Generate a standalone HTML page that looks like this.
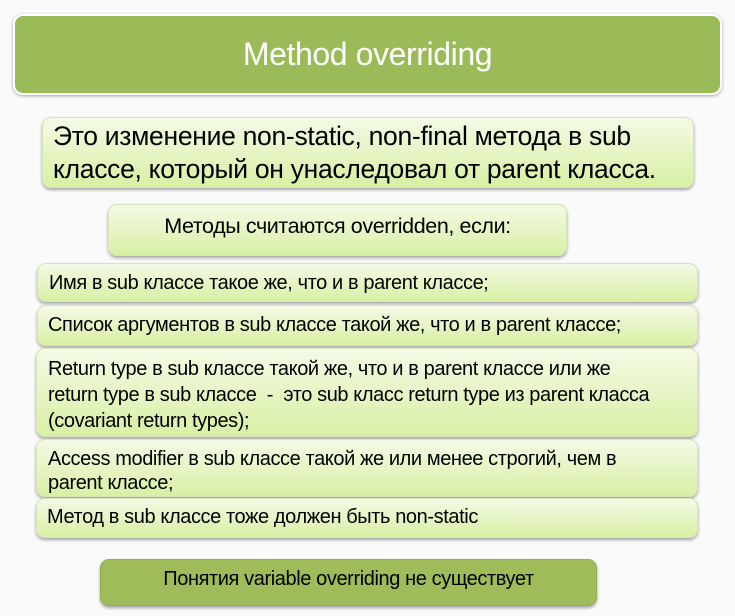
<!DOCTYPE html>
<html><head><meta charset="utf-8"><style>
body{margin:0;width:735px;height:616px;background:#fafafa;position:relative;overflow:hidden;font-family:"Liberation Sans","DejaVu Sans",sans-serif;}
.b{position:absolute;box-sizing:border-box;border-radius:9px;background:linear-gradient(#f4fae6,#d8f0a4);border:1px solid #d6e6b8;box-shadow:0 2px 3px rgba(0,0,0,.35);color:#111;}
.t{position:absolute;white-space:nowrap;font-size:20px;line-height:26px;letter-spacing:-0.4px;}
</style></head><body>
<div class="b" style="left:13px;top:14px;width:709px;height:81px;background:#9bbb59;border:2px solid #fff;border-radius:10px;box-shadow:0 1px 3px rgba(0,0,0,.35)"></div>
<div class="t" style="left:13px;width:709px;top:34px;text-align:center;color:#fff;font-size:32px;line-height:40px">Method overriding</div>

<div class="b" style="left:42px;top:117px;width:652px;height:71px"></div>
<div class="t" style="left:53px;top:120px;font-size:26.5px;line-height:33px;letter-spacing:-0.3px">Это изменение non-static, non-final метода в sub<br>классе, который он унаследовал от parent класса.</div>

<div class="b" style="left:108px;top:204px;width:459px;height:52px"></div>
<div class="t" style="left:108px;width:459px;top:213px;text-align:center;font-size:21.5px">Методы считаются overridden, если:</div>

<div class="b" style="left:37px;top:263px;width:661px;height:39px"></div>
<div class="t" style="left:49px;top:270px">Имя в sub классе такое же, что и в parent классе;</div>

<div class="b" style="left:37px;top:305px;width:661px;height:41px"></div>
<div class="t" style="left:48px;top:312px">Список аргументов в sub классе такой же, что и в parent классе;</div>

<div class="b" style="left:36px;top:348px;width:662px;height:89px"></div>
<div class="t" style="left:48px;top:356px">Return type в sub классе такой же, что и в parent классе или же<br>return type в sub классе&nbsp; -&nbsp; это sub класс return type из parent класса<br>(covariant return types);</div>

<div class="b" style="left:36px;top:439px;width:662px;height:58px"></div>
<div class="t" style="left:48px;top:447px;line-height:24px">Access modifier в sub классе такой же или менее строгий, чем в<br>parent классе;</div>

<div class="b" style="left:36px;top:498px;width:662px;height:40px"></div>
<div class="t" style="left:47px;top:504px">Метод в sub классе тоже должен быть non-static</div>

<div class="b" style="left:100px;top:559px;width:497px;height:47px;background:#9fbb5a;border:1px solid #95b050"></div>
<div class="t" style="left:100px;width:497px;top:566px;text-align:center">Понятия variable overriding не существует</div>
</body></html>
